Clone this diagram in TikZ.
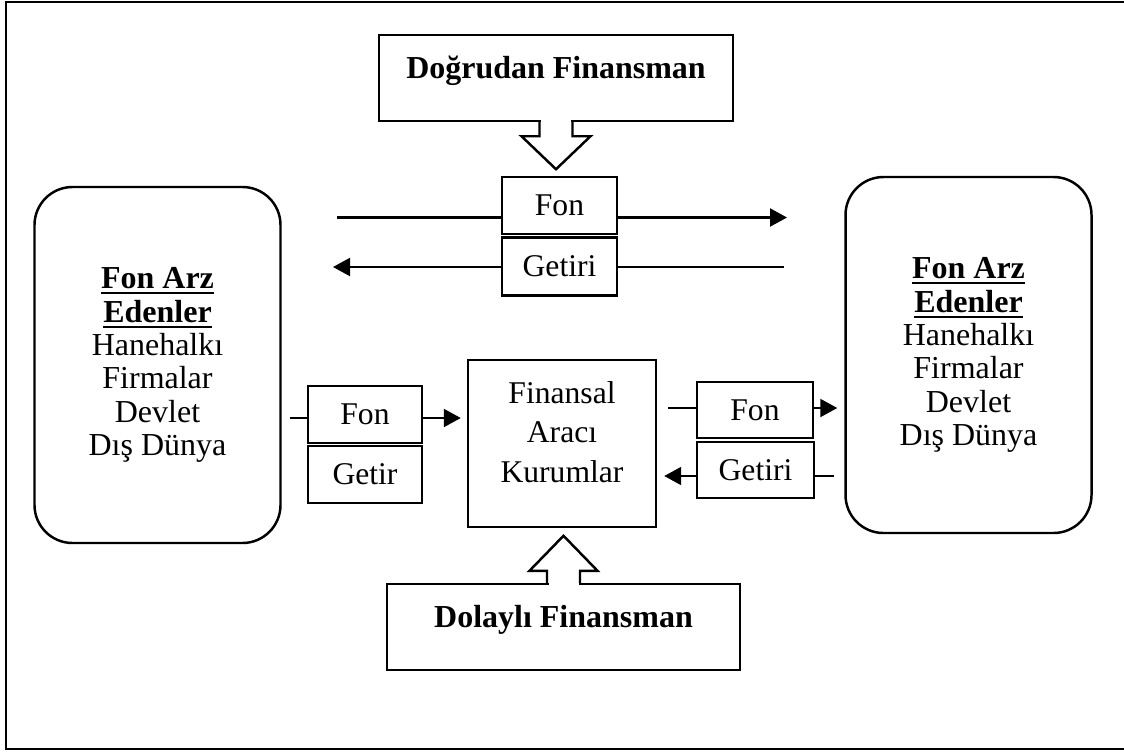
\documentclass[tikz,border=0pt]{standalone}
\usepackage{fontspec}
\setmainfont{Liberation Serif}
\usetikzlibrary{arrows.meta}

\newcommand{\thickul}[1]{\leavevmode\vtop{\hbox{#1}\kern0.9pt\hrule height0.6pt}}

\tikzset{
  flowbox/.style={draw, line width=0.7pt, minimum width=1.15cm, minimum height=0.57cm, inner sep=0pt, font=\fontsize{9}{10}\selectfont},
  groupbox/.style={draw, line width=0.7pt, rounded corners=0.38cm, minimum width=2.46cm, minimum height=3.56cm, align=center, font=\fontsize{9.1}{9.5}\selectfont},
  titlebox/.style={draw, line width=0.7pt, minimum width=3.54cm, minimum height=0.86cm, text height=0.3cm, text depth=0.3cm, font=\fontsize{9.1}{10}\selectfont\bfseries},
  >={Triangle[length=0.17cm,width=0.18cm]},
}

\begin{document}
\begin{tikzpicture}[x=1cm, y=-1cm, line width=0.6pt]

   \useasboundingbox (0,0) rectangle (11.24,7.53);

   % cerceve (sag kenar acik)
   \draw (11.4,0.02) -- (0.06,0.02) -- (0.06,7.49) -- (11.4,7.49);

   % fon arz edenler
   \node[groupbox] (lsupply) at (1.575,3.65) {\thickul{\textbf{Fon Arz}}\\\thickul{\textbf{Edenler}}\\Hanehalkı\\Firmalar\\Devlet\\Dış Dünya};
   \node[groupbox] (rsupply) at (9.685,3.55) {\thickul{\textbf{Fon Arz}}\\\thickul{\textbf{Edenler}}\\Hanehalkı\\Firmalar\\Devlet\\Dış Dünya};

   % dogrudan finansman
   \node[titlebox] (direct) at (5.56,0.78) {Doğrudan Finansman};
   \node[flowbox] (fontop) at (5.595,2.055) {Fon};
   \node[flowbox, minimum height=0.58cm] (getop) at (5.595,2.665) {Getiri};

   \fill[white] ([xshift=-0.15cm,yshift=0.03cm]direct.south) rectangle ([xshift=0.15cm,yshift=-0.03cm]direct.south);
   \draw[line width=0.7pt, fill=white] ([xshift=-0.165cm]direct.south) -- ++(0,0.14) -- ++(-0.18,0) -- ++(0.345,0.33) -- ++(0.345,-0.33) -- ++(-0.18,0) -- ++(0,-0.14);

   \coordinate (fonstart) at (3.37,2.175);
   \coordinate (fonend) at (7.87,2.175);
   \coordinate (getstart) at (7.84,2.67);
   \coordinate (getend) at (3.33,2.67);
   \draw (fonstart) -- (fonstart -| fontop.west);
   \draw[->] (fontop.east |- fonend) -- (fonend);
   \draw (getstart) -- (getstart -| getop.east);
   \draw[->] (getop.west |- getend) -- (getend);

   % dolayli finansman
   \node[draw, line width=0.7pt, align=center, text width=1.88cm, inner sep=0pt, text height=0.435cm, text depth=1.235cm, font=\fontsize{9}{11.2}\selectfont] (broker) at (5.62,4.435) {Finansal\\Aracı\\Kurumlar};
   \node[flowbox, minimum width=1.14cm] (lfon) at (3.65,4.145) {Fon};
   \node[flowbox, minimum width=1.14cm] (lgetir) at (3.65,4.745) {Getir};
   \node[flowbox, minimum width=1.16cm, minimum height=0.56cm] (rfon) at (7.55,4.10) {Fon};
   \node[flowbox, minimum width=1.17cm, minimum height=0.56cm] (rgetiri) at (7.555,4.70) {Getiri};
   \node[titlebox, minimum width=3.53cm] (indirect) at (5.635,6.27) {Dolaylı Finansman};

   \fill[white] ([xshift=-0.15cm,yshift=-0.03cm]indirect.north) rectangle ([xshift=0.15cm,yshift=0.03cm]indirect.north);
   \draw[line width=0.7pt, fill=white] ([xshift=-0.165cm]indirect.north) -- ++(0,-0.12) -- ++(-0.175,0) -- ++(0.34,-0.35) -- ++(0.34,0.35) -- ++(-0.175,0) -- ++(0,0.12);

   \coordinate (lrow) at (0,4.18);
   \coordinate (rrowa) at (0,4.08);
   \coordinate (rrowb) at (0,4.76);
   \draw[shorten <=0.08cm] (lsupply.east |- lrow) -- (lfon.west |- lrow);
   \draw[->, shorten >=0.06cm] (lfon.east |- lrow) -- (broker.west |- lrow);
   \draw[shorten <=0.11cm] (broker.east |- rrowa) -- (rfon.west |- rrowa);
   \draw[->, shorten >=0.07cm] (rfon.east |- rrowa) -- (rsupply.west |- rrowa);
   \draw[shorten <=0.10cm] (rsupply.west |- rrowb) -- (rgetiri.east |- rrowb);
   \draw[->, shorten >=0.07cm] (rgetiri.west |- rrowb) -- (broker.east |- rrowb);

\end{tikzpicture}
\end{document}
